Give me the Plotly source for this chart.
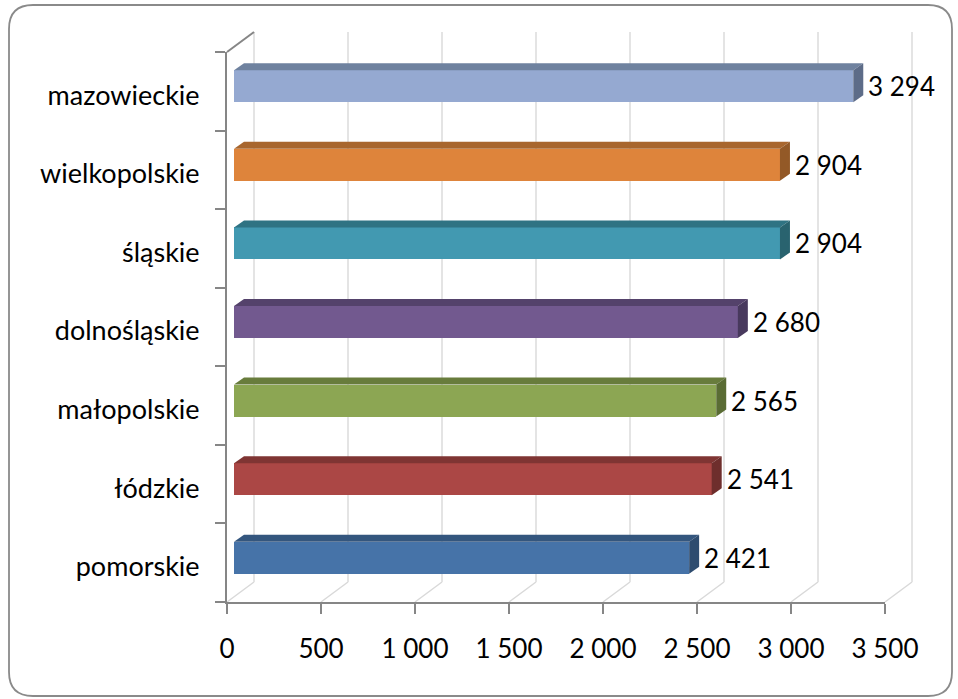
import plotly.graph_objects as go

# ---------------- data ----------------
categories = ["pomorskie", "łódzkie", "małopolskie", "dolnośląskie",
              "śląskie", "wielkopolskie", "mazowieckie"]
values = [2421, 2541, 2565, 2680, 2904, 2904, 3294]
value_labels = ["2 421", "2 541", "2 565", "2 680", "2 904", "2 904", "3 294"]
tick_vals = [0, 500, 1000, 1500, 2000, 2500, 3000, 3500]
tick_text = ["0", "500", "1 000", "1 500", "2 000", "2 500", "3 000", "3 500"]
front_colors = ["#4673A8", "#AB4745", "#8CA653", "#72598F",
                "#4299B1", "#DE843B", "#95A9D1"]
top_colors = ["#34567E", "#7F3533", "#687C3C", "#54426B",
              "#2F7383", "#A8662E", "#6F829F"]
side_colors = ["#2E4C6F", "#6E2E2C", "#5A6C34", "#48395D",
               "#29636F", "#935927", "#5D6C88"]

# ---------------- layout geometry ----------------
W, H = 958, 699
FONT = "Lato"
FSIZE = 26
XMAX = 3500
px0, px1 = 227, 885          # front plane: x of 0 and 3500
py_bot, py_top = 602, 52     # front plane: bottom / top
s = (px1 - px0) / XMAX       # px per unit
cat_px = (py_bot - py_top) / len(categories)

bar_dx, bar_dy = 7, 5        # bar plane offset (px)
back_dx, back_dy = 27, 20    # back wall offset (px)
depth_x, depth_y = 10, 7     # bar depth (px)
bar_w = 32 / cat_px


def fx(p):
    return p / W


def fy(p):
    return 1 - p / H


fig = go.Figure()

# back wall (first subplot -> drawn underneath)
fig.add_trace(go.Scatter(x=[None], y=[None], xaxis="x", yaxis="y",
                         showlegend=False, hoverinfo="skip"))
# front plane axes
fig.add_trace(go.Scatter(x=[None], y=[categories[0]], xaxis="x2", yaxis="y2",
                         showlegend=False, hoverinfo="skip"))
# bars (front faces) on bar plane
fig.add_trace(go.Bar(
    x=values, y=list(range(len(categories))), orientation="h",
    marker=dict(color=front_colors, line=dict(width=0)),
    width=bar_w, xaxis="x3", yaxis="y3", hoverinfo="skip", showlegend=False))

shapes = []
ddx = depth_x / s
ddy = depth_y / cat_px
for i, v in enumerate(values):
    yb = i - bar_w / 2
    yt = i + bar_w / 2
    shapes.append(dict(
        type="path", xref="x3", yref="y3",
        path=f"M 0,{yt} L {v},{yt} L {v+ddx},{yt+ddy} L {ddx},{yt+ddy} Z",
        fillcolor=top_colors[i], line=dict(width=0), layer="above"))
    shapes.append(dict(
        type="path", xref="x3", yref="y3",
        path=f"M {v},{yb} L {v},{yt} L {v+ddx},{yt+ddy} L {v+ddx},{yb+ddy} Z",
        fillcolor=side_colors[i], line=dict(width=0), layer="above"))

# floor diagonals
for tv in tick_vals:
    shapes.append(dict(
        type="line", xref="x", xsizemode="pixel", xanchor=tv,
        x0=-back_dx, x1=0, yref="paper",
        y0=fy(py_bot), y1=fy(py_bot - back_dy),
        line=dict(color="#d9d9d9", width=1.5), layer="below"))
# back-left vertical edge
shapes.append(dict(type="line", xref="x", yref="y", x0=0, x1=0, y0=0, y1=1,
                   line=dict(color="#b3b3b3", width=1.5), layer="below"))
# top-left diagonal
shapes.append(dict(
    type="line", xref="x", xsizemode="pixel", xanchor=0,
    x0=-back_dx, x1=0, yref="paper",
    y0=fy(py_top), y1=fy(py_top - back_dy),
    line=dict(color="#868686", width=2), layer="above"))
# outer rounded border
bx0, bx1, by0, by1, r = 9, 952, 5, 696, 24
path = (f"M {fx(bx0+r)},{fy(by0)} L {fx(bx1-r)},{fy(by0)} "
        f"Q {fx(bx1)},{fy(by0)} {fx(bx1)},{fy(by0+r)} "
        f"L {fx(bx1)},{fy(by1-r)} Q {fx(bx1)},{fy(by1)} {fx(bx1-r)},{fy(by1)} "
        f"L {fx(bx0+r)},{fy(by1)} Q {fx(bx0)},{fy(by1)} {fx(bx0)},{fy(by1-r)} "
        f"L {fx(bx0)},{fy(by0+r)} Q {fx(bx0)},{fy(by0)} {fx(bx0+r)},{fy(by0)} Z")
shapes.append(dict(type="path", xref="paper", yref="paper", path=path,
                   line=dict(color="#8a8a8a", width=1.8), layer="below"))

annotations = []
for i, v in enumerate(values):
    annotations.append(dict(
        x=v, y=i, xref="x3", yref="y3", text=value_labels[i],
        showarrow=False, xanchor="left", yanchor="middle",
        xshift=depth_x + 3, yshift=0,
        font=dict(family=FONT, size=FSIZE, color="black")))

back_lo, back_hi = -200, 3700
fig.update_layout(
    width=W, height=H, autosize=False, margin=dict(l=0, r=0, t=0, b=0, pad=0),
    paper_bgcolor="white", plot_bgcolor="rgba(0,0,0,0)",
    font=dict(family=FONT, size=FSIZE, color="black"),
    shapes=shapes, annotations=annotations, bargap=0,
    # back wall
    xaxis=dict(domain=[fx(px0 + back_dx + back_lo * s),
                       fx(px0 + back_dx + back_hi * s)],
               range=[back_lo, back_hi], tickvals=tick_vals,
               showticklabels=False, ticks="", showline=False,
               showgrid=True, gridcolor="#e4e4e4", gridwidth=1.5,
               zeroline=False, anchor="y", fixedrange=True, automargin=False),
    yaxis=dict(domain=[fy(py_bot - back_dy), fy(py_top - back_dy)],
               range=[0, 1], visible=False, anchor="x", fixedrange=True,
               automargin=False),
    # front plane
    xaxis2=dict(domain=[fx(px0), fx(px1)], range=[0, XMAX],
                tickvals=tick_vals, ticktext=tick_text,
                showgrid=False, zeroline=False,
                showline=True, linecolor="#868686", linewidth=2,
                ticks="outside", ticklen=10, tickwidth=2, tickcolor="#868686",
                ticklabelstandoff=13, anchor="y2", fixedrange=True,
                automargin=False),
    yaxis2=dict(domain=[fy(py_bot), fy(py_top)], type="category",
                categoryarray=categories, categoryorder="array",
                range=[-0.5, len(categories) - 0.5],
                tickson="boundaries", ticks="outside", ticklen=10,
                tickwidth=2, tickcolor="#868686",
                tickfont=dict(family=FONT, size=27, color="black"),
                showline=True, linecolor="#868686", linewidth=2,
                showgrid=False, zeroline=False, ticklabelstandoff=20,
                ticklabelshift=4,
                anchor="x2", fixedrange=True, automargin=False),
    # bar plane
    xaxis3=dict(domain=[fx(px0 + bar_dx), fx(px1 + bar_dx)], range=[0, XMAX],
                visible=False, anchor="y3", fixedrange=True, automargin=False),
    yaxis3=dict(domain=[fy(py_bot - bar_dy), fy(py_top - bar_dy)],
                range=[-0.5, len(categories) - 0.5],
                visible=False, anchor="x3", fixedrange=True, automargin=False),
)

fig.write_html(
    "out.html",
    config={"responsive": False, "displayModeBar": False},
    post_script="document.body.style.margin='0';"
                "document.body.style.overflow='hidden';")
